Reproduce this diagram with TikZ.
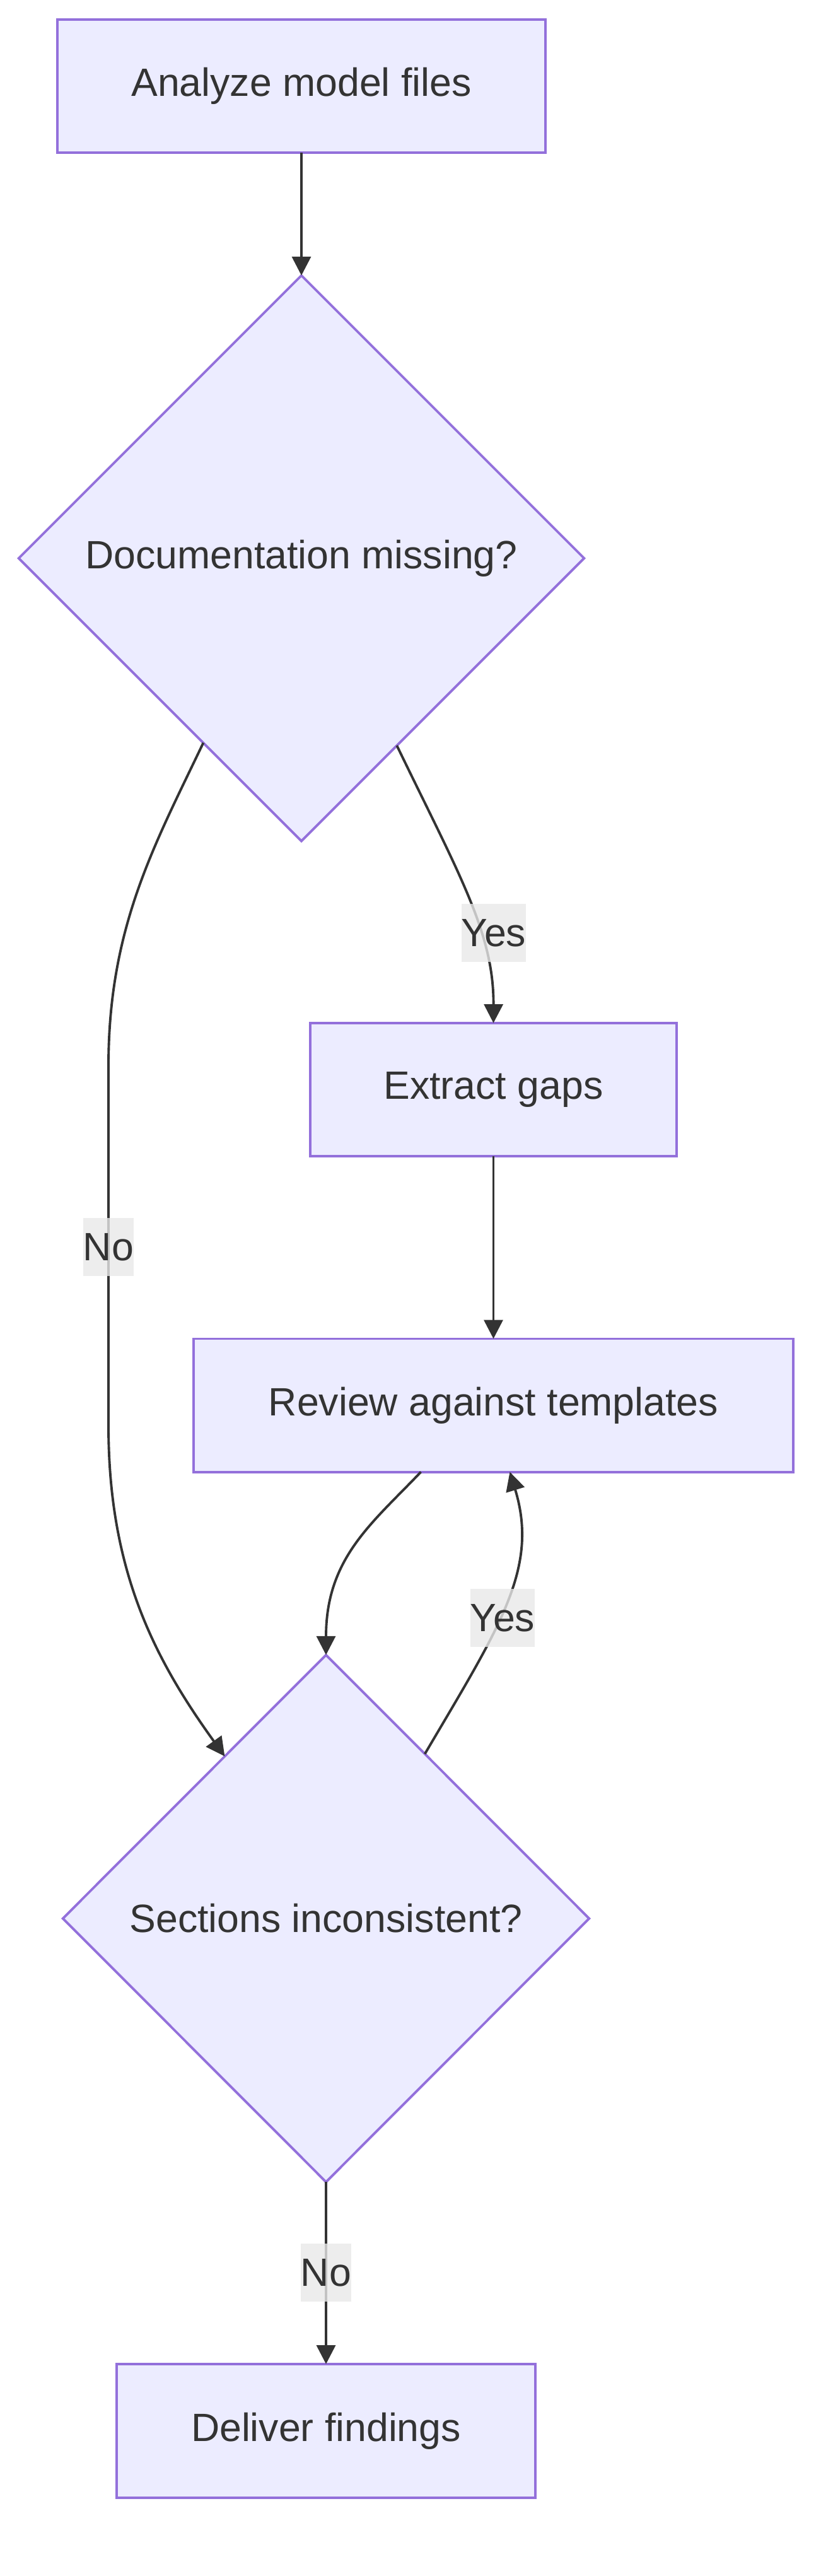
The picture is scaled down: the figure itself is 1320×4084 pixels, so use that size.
\documentclass[tikz,border=0pt]{standalone}
\usepackage{fontspec}
\setmainfont{Liberation Sans}
\usetikzlibrary{shapes.geometric,arrows.meta,calc}
\definecolor{nodefill}{HTML}{ECECFF}
\definecolor{nodeline}{HTML}{9370DB}
\definecolor{ink}{HTML}{333333}
\definecolor{lblbg}{HTML}{E8E8E8}
\begin{document}
\begin{tikzpicture}[x=0.01cm,y=-0.01cm,
 txt/.style={text=ink, font=\fontsize{17.8}{21}\selectfont},
 box/.style={txt, draw=nodeline, fill=nodefill, line width=1.1pt, rectangle, inner sep=0pt, outer sep=0pt},
 decision/.style={txt, draw=nodeline, fill=nodefill, line width=1.1pt, diamond, aspect=1, inner sep=0pt, outer sep=0pt},
 edge/.style={draw=ink, line width=1.1pt, -{Triangle[length=8.5pt,width=8.5pt]}},
 elabel/.style={txt, fill=lblbg, fill opacity=0.8, text opacity=1, inner xsep=0pt, inner ysep=0pt, minimum height=0.92cm}
]
\useasboundingbox (0,0) rectangle (1320,4084);
\node[box, minimum width=7.73cm, minimum height=2.11cm] (A) at (478,136.5) {Analyze model files};
\node[decision, minimum width=8.96cm, minimum height=8.96cm] (B) at (478,885) {Documentation missing?};
\node[box, minimum width=5.81cm, minimum height=2.11cm] (C) at (782.5,1727.5) {Extract gaps};
\node[box, minimum width=9.51cm, minimum height=2.11cm] (D) at (782.5,2228) {Review against templates};
\node[decision, minimum width=8.34cm, minimum height=8.35cm] (E) at (517,3041.5) {Sections inconsistent?};
\node[box, minimum width=6.64cm, minimum height=2.12cm] (F) at (517,3854) {Deliver findings};

\draw[edge] (A.south) -- (B.north);
\draw[edge] (B.-63) .. controls (730,1390) and (783,1480) .. (C.north);
\draw[edge] (B.-118) .. controls (245,1340) and (172,1470) .. (172,1690) -- (172,2260) .. controls (172,2490) and (245,2630) .. (E.122);
\draw[edge] (C.south) -- (D.north);
\draw[edge] ($(D.south)+(-115,0)$) .. controls (590,2415) and (517,2470) .. (E.north);
\draw[edge] (E.59.5) .. controls (793,2578) and (855,2486) .. ($(D.south)+(26,0)$);
\draw[edge] (E.south) -- (F.north);

\node[elabel] (L1) at (783,1479) {Yes};
\node[elabel] (L2) at (172,1977) {No};
\node[elabel] (L3) at (797,2565) {Yes};
\node[elabel] (L4) at (517,3603) {No};
\end{tikzpicture}
\end{document}
